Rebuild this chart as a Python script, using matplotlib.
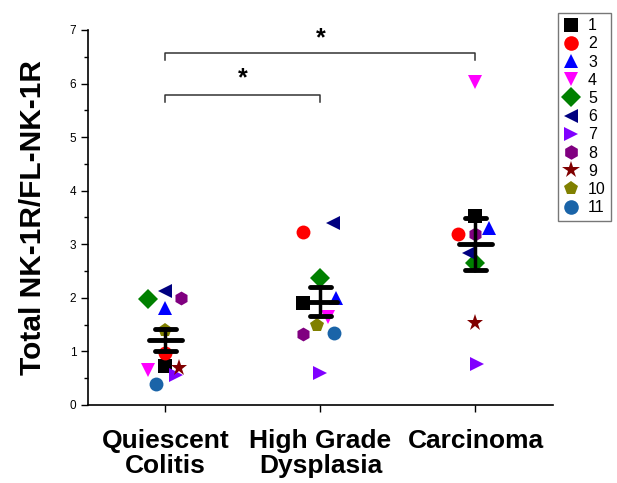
import numpy as np
import matplotlib
matplotlib.use("Agg")
from matplotlib import pyplot as plt
from matplotlib.lines import Line2D

plt.rcParams['font.family'] = ['Liberation Sans', 'DejaVu Sans']

# Groups on the x axis
groups = ["Quiescent\nColitis", "High Grade\nDysplasia", "Carcinoma"]

# Sample legend names, markers and colours
names = ["1", "2", "3", "4", "5", "6", "7", "8", "9", "10", "11"]
markers = ["s", "o", "^", "v", "D", "<", ">", "h", "*", "p", "o"]
colors = ["#000000", "#ff0000", "#0000ff", "#ff00ff", "#008000", "#000080",
          "#8000ff", "#800080", "#800000", "#808000", "#1a64a8"]

# Values per group, index = sample number - 1 (None = not shown)
quiescent = [0.72, 0.97, 1.81, 0.65, 1.98, 2.13, 0.56, 2.00, 0.69, 1.40, 0.40]
dysplasia = [1.90, 3.23, 2.00, 1.64, 2.37, 3.39, 0.60, 1.32, None, 1.49, 1.34]
carcinoma = [3.52, 3.20, 3.30, 6.03, 2.65, 2.84, 0.76, 3.20, 1.53, None, None]

# Horizontal scatter of points within each group
quiescent_dx = [0.0, 0.0, 0.0, -0.11, -0.11, 0.0, 0.07, 0.097, 0.09, 0.0, -0.058]
dysplasia_dx = [-0.115, -0.11, 0.10, 0.05, 0.0, 0.08, 0.0, -0.11, 0.0, -0.025, 0.09]
carcinoma_dx = [0.0, -0.115, 0.09, 0.0, 0.0, -0.04, 0.01, 0.0, 0.0, 0.0, 0.0]

values = [quiescent, dysplasia, carcinoma]
offsets = [quiescent_dx, dysplasia_dx, carcinoma_dx]

fig = plt.figure(figsize=(6.17, 4.83), dpi=100)
ax = fig.add_axes([0.1426, 0.1615, 0.7536, 0.7764])

for g in range(3):
    for i in range(len(names)):
        v = values[g][i]
        if v is None:
            continue
        ms = 12.5 if markers[i] == "*" else 10
        ax.plot(g + 1 + offsets[g][i], v, marker=markers[i], color=colors[i],
                markersize=ms, linestyle="none", markeredgewidth=0, zorder=2)

# mean and SEM bars
for g in range(3):
    v = np.array([x for x in values[g] if x is not None])
    m = v.mean()
    sem = v.std(ddof=1) / np.sqrt(len(v))
    x = g + 1
    ax.plot([x - 0.105, x + 0.105], [m, m], color="black", lw=3.5, zorder=3,
            solid_capstyle="round")
    ax.plot([x, x], [m - sem, m + sem], color="black", lw=2.5, zorder=3)
    for yy in (m - sem, m + sem):
        ax.plot([x - 0.07, x + 0.07], [yy, yy], color="black", lw=3.5, zorder=3,
                solid_capstyle="round")

# significance brackets
def bracket(x1, x2, y, ys):
    ax.plot([x1, x1, x2, x2], [y - 0.13, y, y, y - 0.13], color="#333333",
            lw=1.1, clip_on=False)
    ax.text((x1 + x2) / 2, ys, "*", ha="center", va="center", fontsize=18,
            fontweight="bold")

bracket(1, 2, 5.78, 6.1)
bracket(1, 3, 6.57, 6.85)

ax.set_xlim(0.5, 3.5)
ax.set_ylim(0, 7)
ax.set_xticks([1, 2, 3])
ax.set_xticklabels(groups, fontsize=19, fontweight="bold", linespacing=1.08)
ax.set_yticks(range(0, 8))
ax.set_yticks(np.arange(0.5, 7, 1), minor=True)
ax.tick_params(axis="y", labelsize=8.5, length=5, width=1, direction="out")
ax.tick_params(axis="y", which="minor", length=3, width=1)
ax.tick_params(axis="x", length=5, width=1, pad=12)
ax.spines["top"].set_visible(False)
ax.spines["right"].set_visible(False)
ax.spines["left"].set_linewidth(1.2)
ax.spines["bottom"].set_linewidth(1.2)
ax.set_ylabel("Total NK-1R/FL-NK-1R", fontsize=21.5, fontweight="bold", labelpad=16)

handles = [Line2D([], [], marker=markers[i], color=colors[i], linestyle="none",
                  markersize=13 if markers[i] == "*" else 10.5, markeredgewidth=0)
           for i in range(len(names))]
leg = fig.legend(handles, names, loc="upper left", bbox_to_anchor=(0.904, 0.974),
                 fontsize=11.5, frameon=True, fancybox=False, handlelength=1.0,
                 handletextpad=0.55, labelspacing=0.2, borderpad=0.35,
                 borderaxespad=0)
leg.get_frame().set_edgecolor("#555555")
leg.get_frame().set_linewidth(1)

fig.savefig("out.png", dpi=100)
